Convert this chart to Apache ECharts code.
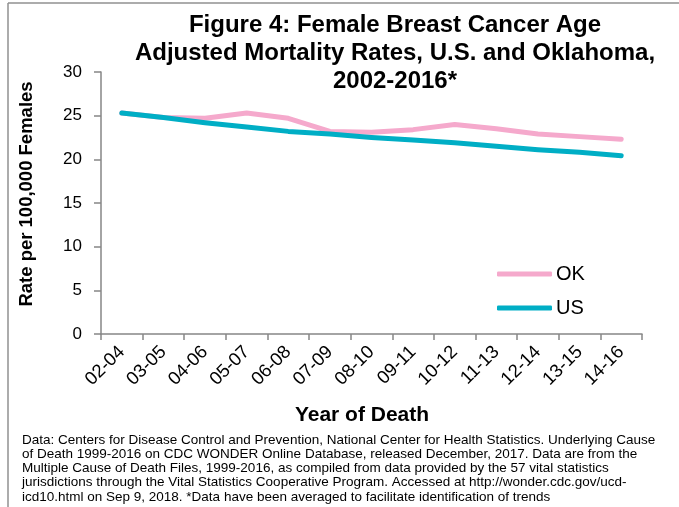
<!DOCTYPE html>
<html>
<head>
<meta charset="utf-8">
<script src="https://cdn.jsdelivr.net/npm/echarts@6/dist/echarts.min.js"></script>
<style>
html,body{margin:0;padding:0;background:#fff;}
#chart{width:679px;height:507px;}
</style>
</head>
<body>
<div id="chart"></div>
<script>
const categories = ['02-04','03-05','04-06','05-07','06-08','07-09','08-10','09-11','10-12','11-13','12-14','13-15','14-16'];
const okValues = [25.3, 24.8, 24.7, 25.3, 24.7, 23.2, 23.1, 23.4, 24.0, 23.5, 22.9, 22.6, 22.3];
const usValues = [25.3, 24.8, 24.2, 23.7, 23.2, 22.9, 22.5, 22.2, 21.9, 21.5, 21.1, 20.8, 20.4];
const yTicks = [0, 5, 10, 15, 20, 25, 30];
const titleLines = ['Figure 4: Female Breast Cancer Age', 'Adjusted Mortality Rates, U.S. and Oklahoma,', '2002-2016*'];
const xAxisName = 'Year of Death';
const yAxisName = 'Rate per 100,000 Females';
const footnoteLines = [
  'Data: Centers for Disease Control and Prevention, National Center for Health Statistics. Underlying Cause',
  'of Death 1999-2016 on CDC WONDER Online Database, released December, 2017. Data are from the',
  'Multiple Cause of Death Files, 1999-2016, as compiled from data provided by the 57 vital statistics',
  'jurisdictions through the Vital Statistics Cooperative Program. Accessed at http://wonder.cdc.gov/ucd-',
  'icd10.html on Sep 9, 2018. *Data have been averaged to facilitate identification of trends'
];

const FONT = '"Liberation Sans", Arial, sans-serif';
const chart = echarts.init(document.getElementById('chart'), null, {renderer: 'canvas'});
chart.setOption({
  animation: false,
  backgroundColor: '#fff',
  title: {
    text: titleLines.join('\n'),
    left: 390, top: 6,
    textAlign: 'center',
    textStyle: {fontFamily: FONT, fontWeight: 'bold', fontSize: 24, lineHeight: 28, color: '#000'}
  },
  legend: {
    orient: 'vertical',
    left: 492, top: 259,
    itemWidth: 55, itemHeight: 5, itemGap: 14,
    icon: 'roundRect',
    textStyle: {fontFamily: FONT, fontSize: 20, color: '#000', padding: [0,0,0,-1]},
    data: ['OK', 'US']
  },
  grid: {left: 101, right: 37, top: 72, bottom: 173, containLabel: false},
  xAxis: {
    type: 'category',
    data: categories,
    boundaryGap: true,
    axisLine: {lineStyle: {color: '#868686', width: 1.5}},
    axisTick: {show: true, alignWithLabel: false, length: 6, lineStyle: {color: '#868686', width: 1.5}},
    axisLabel: {rotate: 45, fontFamily: FONT, fontSize: 18.5, color: '#000', margin: 15, interval: 0}
  },
  yAxis: {
    type: 'value',
    min: yTicks[0], max: yTicks[yTicks.length-1], interval: 5,
    splitLine: {show: false},
    axisLine: {show: true, lineStyle: {color: '#868686', width: 1.5}},
    axisTick: {show: true, length: 7, lineStyle: {color: '#868686', width: 1.5}},
    axisLabel: {fontFamily: FONT, fontSize: 17, color: '#000', margin: 19}
  },
  series: [
    {name: 'OK', type: 'line', data: okValues, showSymbol: false, symbol: 'none',
     lineStyle: {color: '#F5A9CC', width: 5, cap: 'round', join: 'round'}, itemStyle: {color: '#F5A9CC'}, z: 2},
    {name: 'US', type: 'line', data: usValues, showSymbol: false, symbol: 'none',
     lineStyle: {color: '#00AEC5', width: 5, cap: 'round', join: 'round'}, itemStyle: {color: '#00AEC5'}, z: 3}
  ],
  graphic: [
    {type: 'line', shape: {x1: 8, y1: 3, x2: 679, y2: 3}, style: {stroke: '#909090', lineWidth: 1.5}},
    {type: 'line', shape: {x1: 8, y1: 3, x2: 8, y2: 507}, style: {stroke: '#909090', lineWidth: 1.5}},
    {type: 'text', x: 362, y: 415,
     style: {text: xAxisName, font: 'bold 21px "Liberation Sans", Arial, sans-serif', fill: '#000', align: 'center', verticalAlign: 'middle'}},
    {type: 'text', x: 27, y: 194, rotation: Math.PI / 2,
     style: {text: yAxisName, font: 'bold 18.5px "Liberation Sans", Arial, sans-serif', fill: '#000', align: 'center', verticalAlign: 'middle'}},
    {type: 'text', left: 22, top: 433,
     style: {text: footnoteLines.join('\n'), font: '13.5px "Liberation Sans", Arial, sans-serif', lineHeight: 14.2, fill: '#000'}}
  ]
});
</script>
</body>
</html>
